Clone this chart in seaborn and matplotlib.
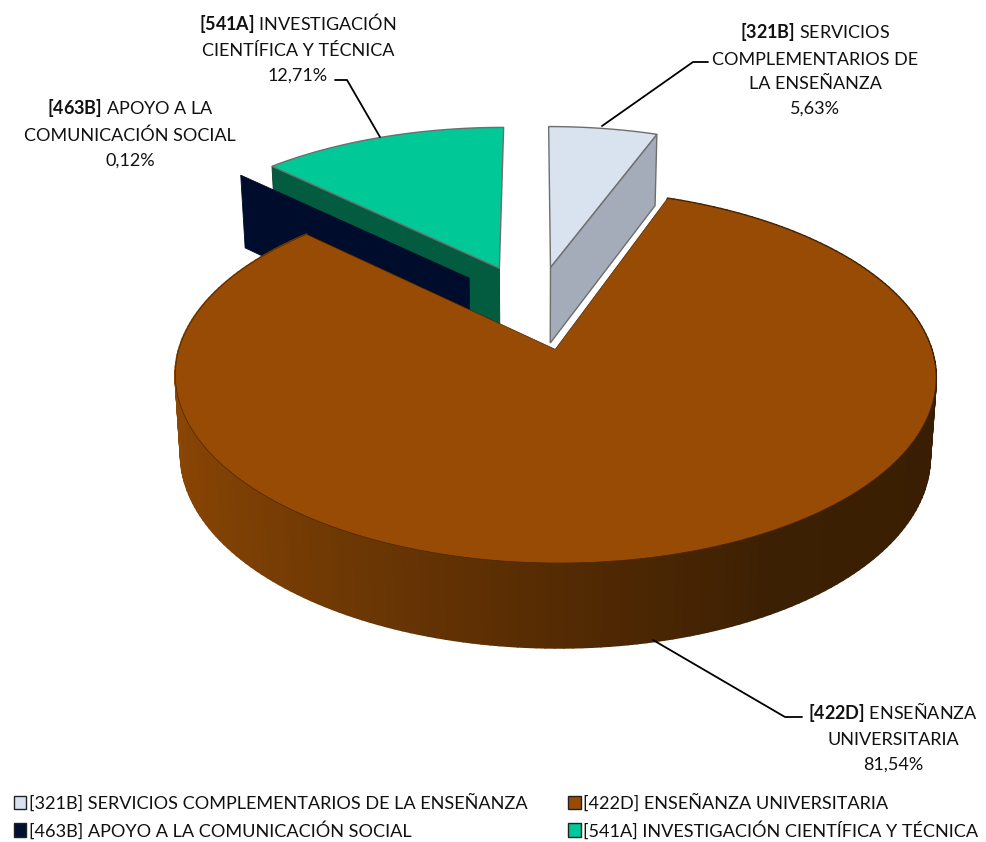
import numpy as np
import matplotlib
matplotlib.use("Agg")
import matplotlib.pyplot as plt
from matplotlib.collections import PolyCollection
from matplotlib.patches import Patch, Polygon
import seaborn as sns

codes = ["321B", "422D", "463B", "541A"]
names = ["SERVICIOS COMPLEMENTARIOS DE LA ENSEÑANZA", "ENSEÑANZA UNIVERSITARIA",
         "APOYO A LA COMUNICACIÓN SOCIAL", "INVESTIGACIÓN CIENTÍFICA Y TÉCNICA"]
values = [5.63, 81.54, 0.12, 12.71]
value_labels = ["5,63%", "81,54%", "0,12%", "12,71%"]
top_colors = ["#d9e3f0", "#974b04", "#001030", "#00c896"]
side_colors = ["#a3acb8", "#5f3003", "#000c2c", "#035c40"]
explode = [0.25, 0.24, 0.258, 0.26]

sns.set_theme(style="white")
plt.rcParams["font.family"] = ["Lato", "DejaVu Sans"]
plt.rcParams["mathtext.fontset"] = "custom"
plt.rcParams["mathtext.bf"] = "Lato:bold"
plt.rcParams["mathtext.rm"] = "Lato"

# perspective settings of the fake 3d pie
CX, CY = 535, 308
R, RY = 364, 171
K = 0.14
DEPTH = 77


def project(u, v, z=0.0):
    p = 1 / (1 + K * v)
    x = CX + R * u * p * (1 - 0.015 * z)
    y = CY - RY * v * p + DEPTH * z * np.sqrt(p)
    return np.column_stack([x, y]) if np.ndim(x) else (x, y)


def slice_geom(i):
    # angles clockwise from 12 o'clock, from the values
    edges = np.cumsum([0] + values) / sum(values) * 2 * np.pi
    a0, a1 = edges[i], edges[i + 1]
    mid = (a0 + a1) / 2
    ou, ov = explode[i] * np.sin(mid), explode[i] * np.cos(mid)
    return a0, a1, ou, ov


def wedge_face(i, z=0.0):
    a0, a1, ou, ov = slice_geom(i)
    t = np.linspace(a0, a1, 200)
    u = np.r_[ou, ou + np.sin(t)]
    v = np.r_[ov, ov + np.cos(t)]
    return project(u, v, np.full(len(u), z))


def cut_face(i, angle):
    _, _, ou, ov = slice_geom(i)
    u = np.array([ou, ou + np.sin(angle), ou + np.sin(angle), ou])
    v = np.array([ov, ov + np.cos(angle), ov + np.cos(angle), ov])
    return project(u, v, np.array([0.0, 0.0, 1.0, 1.0]))


fig = plt.figure(figsize=(9.86, 8.42), dpi=100)
ax = fig.add_axes([0, 0, 1, 1])
ax.set_xlim(0, 986)
ax.set_ylim(842, 0)
ax.axis("off")

edge = "#6e6e6e"

# green slice
a0, a1, _, _ = slice_geom(3)
ax.add_patch(Polygon(cut_face(3, a0), fc=side_colors[3], ec="#02402c", lw=0.6, zorder=1))
ax.add_patch(Polygon(wedge_face(3), fc=top_colors[3], ec=edge, lw=1.0, zorder=2))

# navy slice only shows its cut face
a0, a1, _, _ = slice_geom(2)
ax.add_patch(Polygon(cut_face(2, a0), fc=side_colors[2], ec=side_colors[2], lw=0.6, zorder=3))

# light slice
a0, a1, _, _ = slice_geom(0)
ax.add_patch(Polygon(cut_face(0, a1), fc=side_colors[0], ec=edge, lw=1.0, zorder=4))
ax.add_patch(Polygon(wedge_face(0), fc=top_colors[0], ec=edge, lw=1.0, zorder=5))

# big slice, wall in strips so the colour can run left to right
a0, a1, ou, ov = slice_geom(1)
t = np.linspace(a0, a1, 241)
pal = sns.blend_palette(["#3a1e03", "#3c2003", "#552b03", "#6e3804", "#8a4604"], n_colors=101)
polys, cols = [], []
for t0, t1 in zip(t[:-1], t[1:]):
    tt = (t0 + t1) / 2
    u = ou + np.sin([t0, t1, t1, t0])
    v = ov + np.cos([t0, t1, t1, t0])
    polys.append(project(u, v, np.array([0.0, 0.0, 1.0, 1.0])))
    frac = (1 - np.sin(tt)) / 2
    cols.append(pal[int(frac * 100)])
ax.add_collection(PolyCollection(polys, facecolors=cols, edgecolors=cols, lw=1.5, zorder=6))
ax.add_patch(Polygon(wedge_face(1), fc=top_colors[1], ec="#4a2602", lw=0.5, zorder=7))

# labels
label_pos = [(815, 69), (893, 736), (130, 133), (298, 47)]
label_lines = [
    ["SERVICIOS", "COMPLEMENTARIOS DE", "LA ENSEÑANZA"],
    ["ENSEÑANZA", "UNIVERSITARIA"],
    ["APOYO A LA", "COMUNICACIÓN SOCIAL"],
    ["INVESTIGACIÓN", "CIENTÍFICA Y TÉCNICA"],
]
for code, lines, val, (lx, ly) in zip(codes, label_lines, value_labels, label_pos):
    first = r"$\mathbf{[" + code + r"]}$ " + lines[0]
    txt = "\n".join([first] + lines[1:] + [val])
    ax.text(lx, ly, txt, ha="center", va="center", fontsize=13, color="#111111",
            linespacing=1.65, zorder=10)

# leader lines
leaders = [
    ([602, 693, 708], [126, 62, 62]),
    ([653, 785, 802], [640, 717, 717]),
    ([380, 347, 335], [137, 80, 80]),
]
for lx, ly in leaders:
    ax.plot(lx, ly, color="black", lw=1.3, zorder=9)

# two columns fill top to bottom
order = [0, 2, 1, 3]
handles = [Patch(fc=top_colors[i], ec="#222222", lw=1.0) for i in order]
leg_labels = [f"[{codes[i]}] {names[i]}" for i in order]
ax.legend(handles, leg_labels, ncol=2, loc="lower left", bbox_to_anchor=(0.001, -0.012),
          frameon=False, fontsize=13.1, handlelength=0.7, handleheight=0.75, handletextpad=0.15,
          columnspacing=2.2, labelspacing=0.5, labelcolor="#111111", borderpad=0.2)

fig.savefig("out.png", dpi=100, facecolor="white")
